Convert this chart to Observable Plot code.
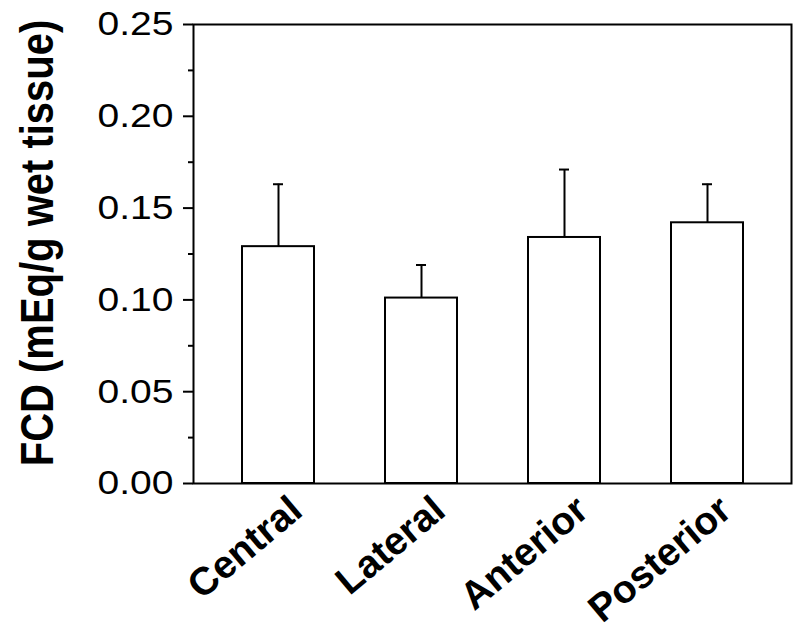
<!DOCTYPE html>
<html>
<head>
<meta charset="utf-8">
<script src="https://cdn.jsdelivr.net/npm/d3@7"></script>
<script src="https://cdn.jsdelivr.net/npm/@observablehq/plot@0.6"></script>
<style>
  html, body { margin: 0; padding: 0; background: #fff; }
  #chart { width: 800px; height: 632px; }
</style>
</head>
<body>
<div id="chart"></div>
<script>
const categories = ["Central", "Lateral", "Anterior", "Posterior"];
const means = [0.129, 0.101, 0.134, 0.142];
const errors = [0.034, 0.018, 0.037, 0.021];
const yMajorTicks = [0, 0.05, 0.10, 0.15, 0.20, 0.25];
const yMinorTicks = [0.025, 0.075, 0.125, 0.175, 0.225];
const yLabel = "FCD (mEq/g wet tissue)";

const data = categories.map((c, i) => ({cat: c, mean: means[i], top: means[i] + errors[i]}));

const font = "'Liberation Sans', Arial, Helvetica, sans-serif";

const plot = Plot.plot({
  width: 800,
  height: 632,
  marginLeft: 193,
  marginRight: 9,
  marginTop: 24,
  marginBottom: 149,
  style: {fontFamily: font, color: "black", background: "white"},
  x: {domain: categories, paddingInner: 0.5, paddingOuter: 0.34, label: null},
  y: {domain: [0, 0.25], label: null},
  marks: [
    Plot.ruleX(data, {x: "cat", y1: "mean", y2: "top", stroke: "black", strokeWidth: 2}),
    Plot.tickY(data, {x: "cat", y: "top", insetLeft: 31, insetRight: 31, stroke: "black", strokeWidth: 2}),
    Plot.barY(data, {x: "cat", y: "mean", fill: "white", stroke: "black", strokeWidth: 2}),
    Plot.frame({stroke: "black", strokeWidth: 2}),
    Plot.axisY({ticks: yMinorTicks, tickSize: 5, tickFormat: () => "", strokeWidth: 2, label: null}),
    Plot.axisY({ticks: yMajorTicks, tickSize: 10, tickPadding: 10, tickFormat: d3.format(".2f"),
      fontSize: 34, strokeWidth: 2, label: null}),
    Plot.axisX({tickSize: 0, tickRotate: -40, tickPadding: 6, fontSize: 39, fontWeight: "bold",
      dx: 18, dy: 15, label: null})
  ]
});

const svg = d3.select(plot);
svg.selectAll("text").filter(function() { return /^\d\.\d\d$/.test(this.textContent); })
  .attr("textLength", 76).attr("lengthAdjust", "spacingAndGlyphs");

svg.append("text")
  .attr("transform", "translate(53,243) scale(1.15,1) rotate(-90)")
  .attr("text-anchor", "middle")
  .attr("font-family", font)
  .attr("font-weight", "bold")
  .attr("font-size", 40)
  .attr("fill", "black")
  .text(yLabel);

document.getElementById("chart").appendChild(plot);
</script>
</body>
</html>
